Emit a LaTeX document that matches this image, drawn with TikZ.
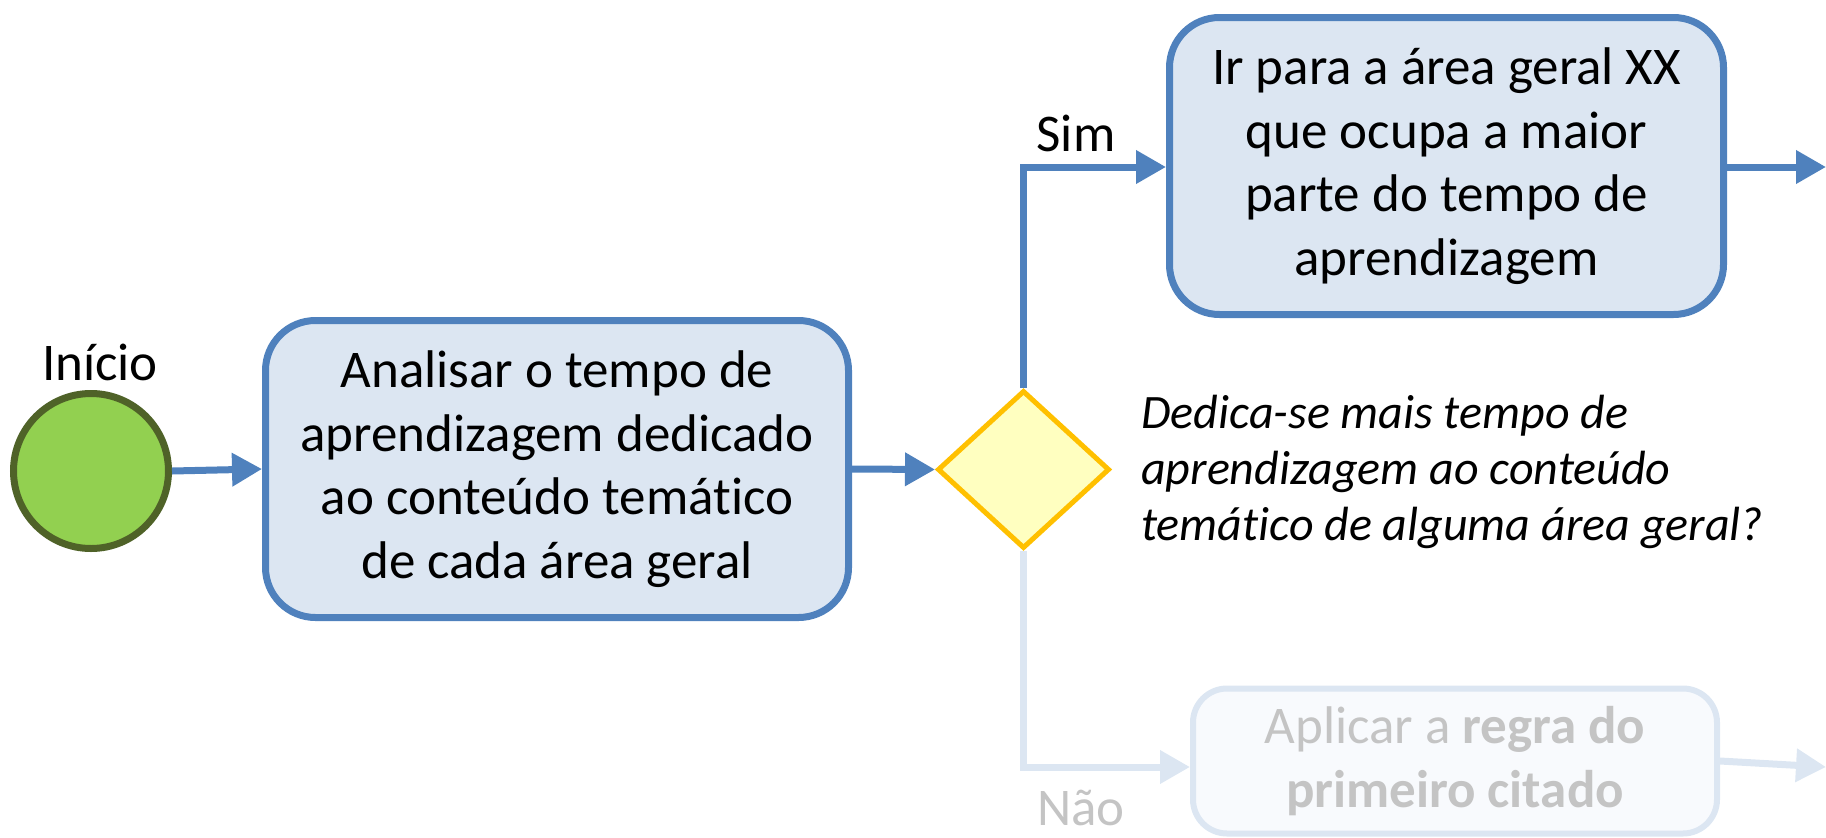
\documentclass[tikz,border=0pt]{standalone}
\usepackage{fontspec}
\setmainfont[Ligatures=NoCommon]{Carlito}
\usetikzlibrary{arrows.meta,shapes.geometric}
\definecolor{blueline}{HTML}{4F81BD}
\definecolor{boxfill}{HTML}{DCE6F2}
\definecolor{startfill}{HTML}{92D050}
\definecolor{startline}{HTML}{4F6228}
\definecolor{decfill}{HTML}{FFFFC0}
\definecolor{decline}{HTML}{FFC000}
\definecolor{fadeline}{HTML}{DCE6F2}
\definecolor{fadefill}{HTML}{F8FAFD}
\definecolor{fadetext}{HTML}{C4C4C4}
\begin{document}
\begin{tikzpicture}[x=1pt,y=-1pt,
  bigfont/.style={font=\fontsize{53}{63.5}\selectfont},
  task/.style={draw=blueline, fill=boxfill, line width=7pt, rounded corners=50pt,
    align=center, inner sep=0pt, bigfont},
  fadetask/.style={draw=fadeline, fill=fadefill, line width=6pt, rounded corners=34pt,
    align=center, inner sep=0pt, bigfont, text=fadetext},
  flow/.style={draw=blueline, line width=7pt, -{Triangle[length=30pt,width=32pt]}},
  fadeflow/.style={draw=fadeline, line width=7pt, -{Triangle[length=30pt,width=32pt]}},
  lbl/.style={inner sep=0pt, bigfont},
]
\useasboundingbox (0,0) rectangle (1826,838);

\node[circle, draw=startline, fill=startfill, line width=7pt, minimum size=155pt, inner sep=0pt] (start) at (91,471) {};
\node[lbl, anchor=base] (inicio) at (100,380) {Início};

\node[task, minimum width=583pt, minimum height=297pt] (analyse) at (557,469)
  {Analisar o tempo de\\aprendizagem dedicado\\ao conteúdo temático\\de cada área geral};

\node[diamond, draw=decline, fill=decfill, line width=5pt, minimum width=172pt, minimum height=158pt, inner sep=0pt] (dec) at (1023.5,469.5) {};

\node[task, minimum width=554pt, minimum height=297pt] (ir) at (1446.5,166)
  {Ir para a área geral XX\\que ocupa a maior\\parte do tempo de\\aprendizagem};

\node[fadetask, minimum width=524pt, minimum height=145pt] (apl) at (1455,761)
  {Aplicar a \textbf{regra do}\\\textbf{primeiro citado}};

\node[inner sep=0pt, anchor=base west, align=left, font=\fontsize{48}{56}\selectfont\itshape] (question) at (1141,540)
  {Dedica-se mais tempo de\\aprendizagem ao conteúdo\\temático de alguma área geral?};

\node[lbl, anchor=base] (sim) at (1076,151) {Sim};
\node[lbl, anchor=base, text=fadetext] (nao) at (1081,825) {Não};

\coordinate (out1) at (1826,167);
\coordinate (out2) at (1826,767);

\draw[flow] (start.east) -- (analyse.west);
\draw[flow] (analyse.east) -- (dec.west);
\draw[flow] (dec.north) |- ([yshift=-1pt]ir.west);
\draw[flow] (ir.east |- out1) -- (out1);
\draw[fadeflow] (dec.south) |- ([yshift=-6pt]apl.west);
\draw[fadeflow] (apl.east) -- (out2);
\end{tikzpicture}
\end{document}
